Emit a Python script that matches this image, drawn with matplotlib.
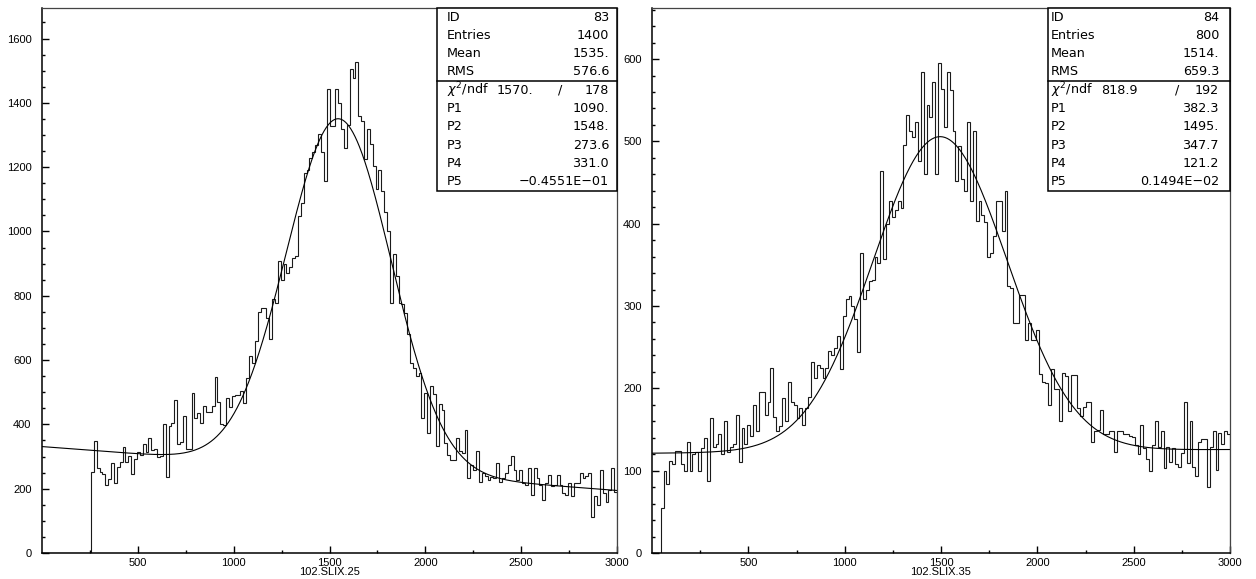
import numpy as np
import matplotlib
matplotlib.use("Agg")
import matplotlib.pyplot as plt
from matplotlib.patches import Rectangle

# 200 bins of width 15 between 0 and 3000
bin_edges = np.linspace(0, 3000, 201)

counts_83 = [0] * 17 + [
    252, 349, 265, 252, 245, 210, 230, 280, 218, 268, 282, 330, 282, 303, 246,
    292, 315, 304, 338, 313, 357, 321, 323, 300, 303, 400, 236, 394, 404, 476,
    340, 346, 425, 322, 322, 498, 420, 436, 404, 456, 440, 440, 456, 547, 470,
    400, 398, 482, 454, 487, 490, 490, 503, 467, 545, 612, 590, 660, 750, 763,
    763, 730, 666, 790, 778, 908, 850, 900, 872, 890, 918, 925, 1048, 1088, 1183,
    1191, 1230, 1248, 1270, 1303, 1246, 1157, 1443, 1329, 1329, 1443, 1401, 1319, 1261, 1331,
    1505, 1476, 1526, 1358, 1345, 1225, 1319, 1272, 1204, 1131, 1190, 1126, 1059, 1000, 778,
    930, 860, 778, 773, 747, 681, 592, 576, 550, 560, 420, 498, 373, 519, 493,
    332, 462, 446, 343, 305, 290, 290, 357, 316, 311, 383, 233, 274, 259, 316,
    222, 248, 238, 228, 235, 232, 280, 222, 233, 248, 274, 302, 259, 228, 259,
    217, 212, 264, 181, 264, 233, 212, 165, 217, 243, 207, 212, 243, 212, 186,
    181, 217, 176, 217, 217, 250, 233, 238, 250, 113, 176, 150, 259, 186, 160,
    195, 264, 191,
]

counts_84 = [0] * 3 + [
    55, 100, 84, 112, 108, 124, 124, 108, 100, 135, 100, 120, 123, 100, 127,
    140, 88, 164, 129, 133, 144, 120, 160, 123, 129, 133, 168, 111, 152, 132,
    156, 142, 180, 148, 196, 196, 168, 184, 225, 165, 148, 154, 188, 160, 208,
    184, 180, 164, 176, 156, 176, 190, 232, 213, 228, 225, 212, 225, 245, 240,
    249, 264, 224, 288, 308, 312, 300, 284, 244, 364, 308, 320, 330, 332, 360,
    352, 464, 357, 400, 428, 408, 417, 428, 419, 496, 532, 512, 505, 524, 476,
    584, 460, 544, 529, 572, 460, 595, 564, 517, 584, 563, 512, 452, 494, 454,
    440, 524, 428, 512, 403, 428, 411, 402, 360, 365, 385, 428, 428, 391, 440,
    324, 322, 279, 279, 313, 313, 259, 279, 259, 259, 271, 217, 208, 206, 180,
    224, 199, 199, 160, 219, 215, 173, 216, 216, 176, 166, 177, 184, 184, 135,
    148, 149, 174, 144, 145, 148, 148, 123, 148, 148, 145, 145, 142, 141, 131,
    120, 156, 127, 114, 100, 131, 160, 129, 148, 103, 129, 110, 127, 108, 104,
    122, 184, 109, 160, 105, 93, 135, 138, 138, 80, 129, 148, 101, 146, 133,
    148, 144,
]

stats_83 = [("ID", "83"), ("Entries", "1400"), ("Mean", "1535."), ("RMS", "576.6")]
chi2_83 = ("1570.", "178")
pars_83 = ["1090.", "1548.", "273.6", "331.0", "\u22120.4551E\u221201"]

stats_84 = [("ID", "84"), ("Entries", "800"), ("Mean", "1514."), ("RMS", "659.3")]
chi2_84 = ("818.9", "192")
pars_84 = ["382.3", "1495.", "347.7", "121.2", "0.1494E\u221202"]

W, H = 1256, 579
FONT = "Liberation Sans"


def to_float(s):
    return float(s.replace("\u2212", "-").replace("E", "e"))


def gauss_plus_line(x, p):
    return p[0] * np.exp(-0.5 * ((x - p[1]) / p[2]) ** 2) + p[3] + p[4] * x


def draw_panel(ax, counts, stats, chi2, pars, xlabel, ymax, ymaj, ymin,
               box_x0, txt_x0, chi_x, slash_x, val_x):
    ax.stairs(counts, bin_edges, color="#1a1a1a", lw=0.8, baseline=0)

    p = [to_float(s) for s in pars]
    xf = np.linspace(0, 3000, 800)
    ax.plot(xf, gauss_plus_line(xf, p), color="black", lw=0.8)

    ax.set_xlim(0, 3000)
    ax.set_ylim(0, ymax)
    ax.set_xticks([500, 1000, 1500, 2000, 2500, 3000])
    ax.set_xticks(np.arange(250, 3000, 250), minor=True)
    ax.set_yticks(np.arange(0, ymax, ymaj))
    ax.set_yticks(np.arange(0, ymax, ymin), minor=True)
    ax.tick_params(which="both", direction="in", top=False, right=False,
                   width=1.0, labelsize=8)
    ax.tick_params(which="major", length=4.8)
    ax.tick_params(which="minor", length=2.4)
    ax.tick_params(axis="y", pad=7.5)
    ax.tick_params(axis="x", pad=3.5)
    for lab in ax.get_xticklabels() + ax.get_yticklabels():
        lab.set_family(FONT)

    for s in ("left", "bottom"):
        ax.spines[s].set_linewidth(1.1)
        ax.spines[s].set_color("black")
    for s in ("top", "right"):
        ax.spines[s].set_linewidth(0.9)
        ax.spines[s].set_color("#444444")

    ax.text(0.5, -14 / 545, xlabel, transform=ax.transAxes, ha="center",
            va="top", fontsize=8, family=FONT)

    # statistics box in the upper right corner
    box_y0 = 1 - 182.7 / 545
    ax.add_patch(Rectangle((box_x0, box_y0), 1 - box_x0, 1 - box_y0,
                           transform=ax.transAxes, facecolor="white",
                           edgecolor="black", lw=1.1, zorder=5, clip_on=False))
    rh = (1 - box_y0) / 10
    ax.plot([box_x0, 1], [1 - 4 * rh, 1 - 4 * rh], transform=ax.transAxes,
            color="black", lw=1.1, zorder=6, clip_on=False)

    rows = list(stats) + [(r"$\chi^2$/ndf", chi2[1])] + \
        [("P%d" % (k + 1), v) for k, v in enumerate(pars)]
    kw = dict(transform=ax.transAxes, va="center", fontsize=9.2, zorder=7,
              family="DejaVu Sans")
    for k, (name, val) in enumerate(rows):
        yc = 1 - rh * (k + 0.5)
        ax.text(txt_x0, yc, name, ha="left", **kw)
        ax.text(val_x, yc, val, ha="right", **kw)
    ycx = 1 - rh * 4.5
    ax.text(chi_x, ycx, chi2[0], ha="right", **kw)
    ax.text(slash_x, ycx, "/", ha="center", **kw)


fig = plt.figure(figsize=(W / 100, H / 100), dpi=100)
ax1 = fig.add_axes([42 / W, 1 - 553 / H, 575 / W, 545 / H])
ax2 = fig.add_axes([652 / W, 1 - 553 / H, 578 / W, 545 / H])

draw_panel(ax1, counts_83, stats_83, chi2_83, pars_83, "102.SLIX.25",
           1695, 200, 50,
           box_x0=(437 - 42) / 575, txt_x0=(446.7 - 42) / 575,
           chi_x=(533 - 42) / 575, slash_x=(560 - 42) / 575,
           val_x=(609 - 42) / 575)
draw_panel(ax2, counts_84, stats_84, chi2_84, pars_84, "102.SLIX.35",
           662, 100, 20,
           box_x0=(1048 - 652) / 578, txt_x0=(1051 - 652) / 578,
           chi_x=(1138 - 652) / 578, slash_x=(1176.7 - 652) / 578,
           val_x=(1219 - 652) / 578)

fig.savefig("out.png", dpi=100, facecolor="white")
